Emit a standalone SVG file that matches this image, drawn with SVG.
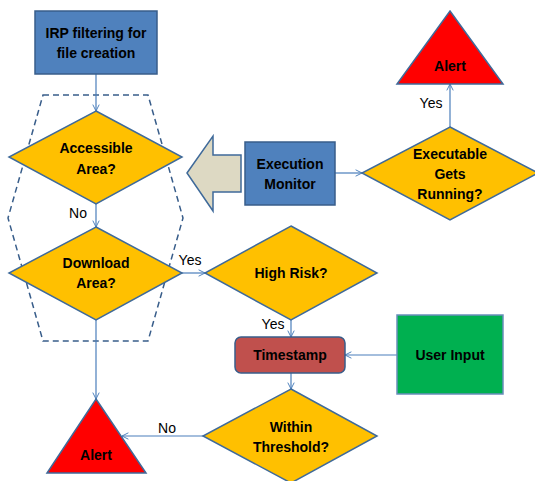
<svg xmlns="http://www.w3.org/2000/svg" width="535" height="481" viewBox="0 0 535 481">
<defs>
<marker id="arr" viewBox="0 0 10 10" refX="9" refY="5" markerWidth="8" markerHeight="8" orient="auto" markerUnits="userSpaceOnUse">
<path d="M1,1 L9,5 L1,9" fill="none" stroke="#4A7EBB" stroke-width="1.2"/>
</marker>
<style>
.t{font-family:"Liberation Sans",Arial,sans-serif;font-weight:bold;font-size:14px;fill:#000;text-anchor:middle}
.l{font-family:"Liberation Sans",Arial,sans-serif;font-size:14px;fill:#000;text-anchor:middle}
.box{fill:#4F81BD;stroke:#385D8A;stroke-width:1.5}
.dia{fill:#FFC000;stroke:#3F6A9A;stroke-width:1.5}
.tri{fill:#FF0000;stroke:#3F6A9A;stroke-width:1.5}
.c{fill:none;stroke:#4A7EBB;stroke-width:1.2;marker-end:url(#arr)}
</style>
</defs>
<rect width="535" height="481" fill="#fff"/>
<polygon points="43,95 148,95 183,218 148,341 43,341 8,218" fill="none" stroke="#385D8A" stroke-width="1.5" stroke-dasharray="6,4"/>
<g id="connectors">
<line class="c" x1="96" y1="74" x2="96" y2="111"/>
<line class="c" x1="96" y1="204" x2="96" y2="227"/>
<line class="c" x1="96" y1="320" x2="96" y2="399"/>
<line class="c" x1="182" y1="273" x2="205" y2="273"/>
<line class="c" x1="291" y1="320" x2="291" y2="337"/>
<line class="c" x1="397" y1="355" x2="345" y2="355"/>
<line class="c" x1="291" y1="373" x2="291" y2="389"/>
<line class="c" x1="203" y1="436" x2="122" y2="436"/>
<line class="c" x1="335" y1="173" x2="362" y2="173"/>
<line class="c" x1="450" y1="127" x2="450" y2="84"/>
<text class="l" x="78" y="218">No</text>
<text class="l" x="190" y="265">Yes</text>
<text class="l" x="273" y="329">Yes</text>
<text class="l" x="167" y="433">No</text>
<text class="l" x="431" y="108">Yes</text>
</g>
<g id="irp">
<rect class="box" x="35" y="11" width="122" height="63"/>
<text class="t" x="96" y="38">IRP filtering for</text>
<text class="t" x="96" y="58">file creation</text>
</g>
<g id="accessible">
<polygon class="dia" points="96,111 182,157 96,204 9,157"/>
<text class="t" x="96" y="153">Accessible</text>
<text class="t" x="96" y="174">Area?</text>
</g>
<g id="download">
<polygon class="dia" points="96,227 182,273 96,320 9,273"/>
<text class="t" x="96" y="268">Download</text>
<text class="t" x="96" y="288">Area?</text>
</g>
<g id="alert-left">
<polygon class="tri" points="96,399 146,473 47,473"/>
<text class="t" x="96" y="460">Alert</text>
</g>
<g id="highrisk">
<polygon class="dia" points="291,226 377,273 291,320 205,273"/>
<text class="t" x="291" y="278">High Risk?</text>
</g>
<g id="timestamp">
<rect x="235" y="337" width="110" height="36" rx="6" ry="6" fill="#C0504D" stroke="#385D8A" stroke-width="1.5"/>
<text class="t" x="290" y="360">Timestamp</text>
</g>
<g id="userinput">
<rect x="397" y="315" width="106" height="79" fill="#00B050" stroke="#6A8EBB" stroke-width="1.5"/>
<text class="t" x="450" y="360">User Input</text>
</g>
<g id="threshold">
<polygon class="dia" points="291,389 377,436 291,483 203,436"/>
<text class="t" x="291" y="432">Within</text>
<text class="t" x="291" y="452">Threshold?</text>
</g>
<g id="exec-monitor">
<rect class="box" x="245" y="142" width="90" height="63"/>
<text class="t" x="290" y="169">Execution</text>
<text class="t" x="290" y="189">Monitor</text>
</g>
<g id="block-arrow">
<polygon points="187,173 213,136 213,155 241,155 241,192 213,192 213,211" fill="#DDD9C3" stroke="#3F6A9A" stroke-width="1.5"/>
</g>
<g id="executable">
<polygon class="dia" points="450,127 538,173 450,220 362,173"/>
<text class="t" x="450" y="159">Executable</text>
<text class="t" x="450" y="179">Gets</text>
<text class="t" x="450" y="199">Running?</text>
</g>
<g id="alert-right">
<polygon class="tri" points="450,11 503,84 397,84"/>
<text class="t" x="450" y="71">Alert</text>
</g>
</svg>
